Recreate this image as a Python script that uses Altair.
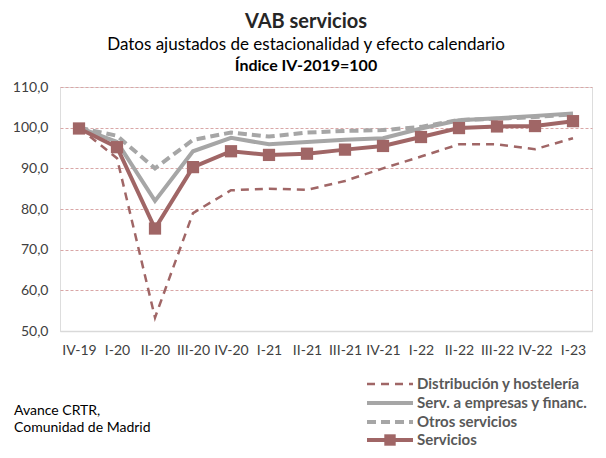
import altair as alt
import pandas as pd

quarters = ["IV-19", "I-20", "II-20", "III-20", "IV-20", "I-21", "II-21", "III-21",
            "IV-21", "I-22", "II-22", "III-22", "IV-22", "I-23"]

distribucion = [100.0, 92.5, 53.3, 79.0, 84.6, 85.0, 84.7, 86.9, 90.0, 92.9, 95.9, 95.9, 94.7, 97.4]
serv_empresas = [100.0, 96.5, 82.0, 94.2, 97.5, 95.9, 96.5, 97.0, 97.4, 99.8, 101.8, 102.3, 102.9, 103.5]
otros = [100.0, 98.0, 90.0, 97.0, 98.8, 97.8, 98.8, 99.2, 99.4, 100.2, 101.9, 102.2, 102.6, 103.3]
servicios = [99.8, 95.2, 75.2, 90.3, 94.2, 93.3, 93.6, 94.6, 95.5, 97.7, 99.9, 100.3, 100.4, 101.6]

series_names = ["Distribución y hostelería", "Serv. a empresas y financ.", "Otros servicios", "Servicios"]
series_values = [distribucion, serv_empresas, otros, servicios]

rows = []
for name, vals in zip(series_names, series_values):
    for q, v in zip(quarters, vals):
        rows.append({"serie": name, "trimestre": q, "valor": v})
df = pd.DataFrame(rows)

RED = "#a06666"
GRAY = "#a6a6a6"
FONT = "Lato"

W, H = 532, 244

x_enc = alt.X("trimestre:N", sort=quarters, scale=alt.Scale(padding=0.5),
              axis=alt.Axis(title=None, labelAngle=0, ticks=False, domain=True,
                            domainColor="#d9d9d9", domainWidth=1.5,
                            labelFont=FONT, labelFontSize=14, labelColor="#404040",
                            labelPadding=12, grid=False))
y_enc = alt.Y("valor:Q", scale=alt.Scale(domain=[50, 110], nice=False, zero=False),
              axis=alt.Axis(title=None, values=[50, 60, 70, 80, 90, 100, 110],
                            labelExpr="replace(format(datum.value, '.1f'), '.', ',')",
                            ticks=False, domain=False, labelFont=FONT, labelFontSize=14,
                            labelColor="#404040", labelPadding=12,
                            gridColor={"condition": {"test": "datum.value === 50", "value": "#d9d9d9"}, "value": "#d9a6a6"},
                            gridDash={"condition": {"test": "datum.value === 50", "value": []}, "value": [3, 2]},
                            gridWidth=1))

base = alt.Chart(df).encode(x=x_enc, y=y_enc)

l_dist = base.transform_filter(alt.datum.serie == series_names[0]).mark_line(
    color=RED, strokeWidth=2.5, strokeDash=[8, 6])
l_emp = base.transform_filter(alt.datum.serie == series_names[1]).mark_line(
    color=GRAY, strokeWidth=4)
l_otros = base.transform_filter(alt.datum.serie == series_names[2]).mark_line(
    color=GRAY, strokeWidth=4, strokeDash=[9, 5])
l_serv = base.transform_filter(alt.datum.serie == series_names[3]).mark_line(
    color=RED, strokeWidth=4,
    point=alt.OverlayMarkDef(shape="square", size=150, filled=True, color=RED, opacity=1))

# Titles
t1 = alt.Chart().mark_text(text="VAB servicios", font=FONT, fontSize=20, fontWeight="bold",
                           color="#262626", align="center", baseline="alphabetic").encode(
    x=alt.value(246), y=alt.value(-59))
t2 = alt.Chart().mark_text(text="Datos ajustados de estacionalidad y efecto calendario", font=FONT,
                           fontSize=17, color="#000000", align="center", baseline="middle").encode(
    x=alt.value(246), y=alt.value(-42))
t3 = alt.Chart().mark_text(text="Índice IV-2019=100", font=FONT, fontSize=16, fontWeight="bold",
                           color="#000000", align="center", baseline="middle").encode(
    x=alt.value(246), y=alt.value(-21))

# Source note
s1 = alt.Chart().mark_text(text="Avance CRTR,", font=FONT, fontSize=14, color="#000000",
                           align="left", baseline="middle").encode(x=alt.value(-46), y=alt.value(324))
s2 = alt.Chart().mark_text(text="Comunidad de Madrid", font=FONT, fontSize=14, color="#000000",
                           align="left", baseline="middle").encode(x=alt.value(-46), y=alt.value(341))

# Custom legend
leg_y = [297, 316, 335, 353]
lx1, lx2, ltx = 307, 353, 357
legend_layers = []
styles = [
    dict(color=RED, strokeWidth=2.5, strokeDash=[8, 6]),
    dict(color=GRAY, strokeWidth=4),
    dict(color=GRAY, strokeWidth=4, strokeDash=[9, 5]),
    dict(color=RED, strokeWidth=4),
]
for name, yy, st in zip(series_names, leg_y, styles):
    legend_layers.append(alt.Chart().mark_rule(**st).encode(
        x=alt.value(lx1), x2=alt.value(lx2), y=alt.value(yy)))
    legend_layers.append(alt.Chart().mark_text(text=name, font=FONT, fontSize=15, fontWeight="bold",
                                               color="#595959", align="left", baseline="middle").encode(
        x=alt.value(ltx), y=alt.value(yy)))
legend_layers.append(alt.Chart().mark_point(shape="square", size=130, filled=True, color=RED, opacity=1).encode(
    x=alt.value((lx1 + lx2) / 2), y=alt.value(leg_y[3])))

chart = alt.layer(l_dist, l_emp, l_otros, l_serv, t1, t2, t3, s1, s2, *legend_layers).properties(
    width=W, height=H,
    autosize=alt.AutoSizeParams(type="none"),
    padding={"left": 52, "top": 79, "right": 6, "bottom": 119},
).configure_view(stroke=None).configure(background="white")

chart.save("out.html", embed_options={"renderer": "svg", "actions": False})
